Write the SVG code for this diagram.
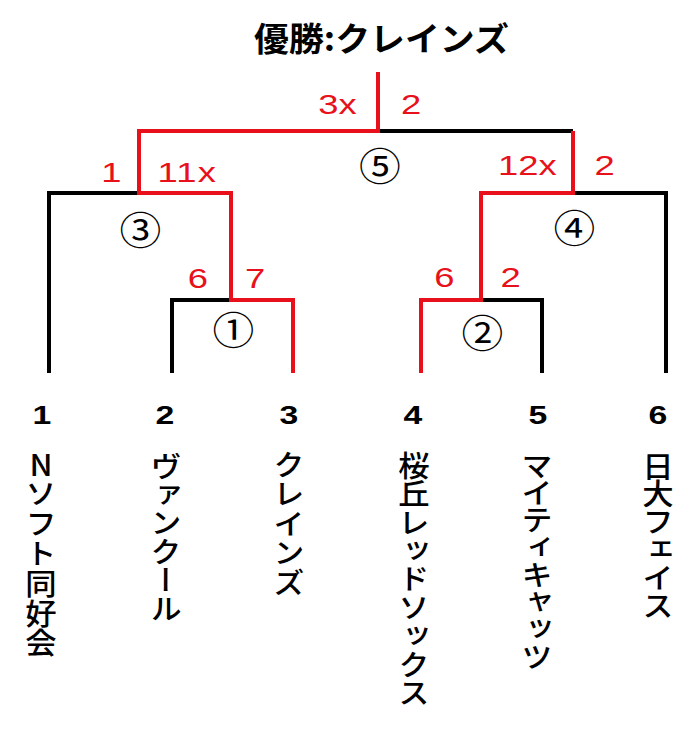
<svg xmlns="http://www.w3.org/2000/svg" width="694" height="729" viewBox="0 0 694 729">
<style>
.bk{fill:none;stroke:#000;stroke-width:4;stroke-linecap:butt;stroke-linejoin:miter}
.rd{fill:none;stroke:#e8101a;stroke-width:4;stroke-linecap:butt;stroke-linejoin:miter}
.score{font-family:"Liberation Sans",Arial,sans-serif;font-size:28px;fill:#e8101a;text-anchor:middle}
.num{font-family:"Liberation Sans",Arial,sans-serif;font-size:25px;font-weight:bold;fill:#000;text-anchor:middle}
.name{font-family:"Noto Sans CJK JP",sans-serif;font-size:29px;font-weight:500;fill:#000;writing-mode:vertical-rl;text-orientation:upright}
.circ{font-family:"Noto Sans CJK JP",sans-serif;font-size:38px;fill:#000;text-anchor:middle}
.title{font-family:"Noto Sans CJK JP",sans-serif;font-size:33px;font-weight:bold;fill:#000}
</style>
<rect width="694" height="729" fill="#fff"/>
<g id="title">
<text class="title" x="254" y="51" textLength="255" lengthAdjust="spacingAndGlyphs">優勝:クレインズ</text>
</g>
<g id="connectors">
<path class="bk" d="M49 373V193H139"/>
<path class="bk" d="M378 131H573"/>
<path class="bk" d="M573 193H666V373"/>
<path class="bk" d="M172 373V300H231"/>
<path class="bk" d="M481 300H542V373"/>
<path class="rd" d="M378 72V131H139V193H231V300H293V373"/>
<path class="rd" d="M573 131V193H481V300H421V373"/>
</g>
<g id="scores">
<text class="score" transform="translate(337.4,114) scale(1.3,1)">3x</text>
<text class="score" transform="translate(411,114) scale(1.3,1)">2</text>
<text class="score" transform="translate(111.4,182) scale(1.3,1)">1</text>
<text class="score" transform="translate(187.4,182) scale(1.3,1)" letter-spacing="1">11x</text>
<text class="score" transform="translate(527.4,175) scale(1.3,1)">12x</text>
<text class="score" transform="translate(604.7,175) scale(1.3,1)">2</text>
<text class="score" transform="translate(197.8,288) scale(1.3,1)">6</text>
<text class="score" transform="translate(255,288) scale(1.3,1)">7</text>
<text class="score" transform="translate(444.3,287) scale(1.3,1)">6</text>
<text class="score" transform="translate(510.5,287) scale(1.3,1)">2</text>
</g>
<g id="match1"><text class="circ" transform="translate(233.3,344.4) scale(1.1,1)">①</text></g>
<g id="match2"><text class="circ" transform="translate(482.5,346.9) scale(1.1,1)">②</text></g>
<g id="match3"><text class="circ" transform="translate(140.5,244) scale(1.1,1)">③</text></g>
<g id="match4"><text class="circ" transform="translate(574.3,241.8) scale(1.1,1)">④</text></g>
<g id="match5"><text class="circ" transform="translate(380,180.4) scale(1.1,1)">⑤</text></g>
<g id="team1">
<text class="num" transform="translate(42,424) scale(1.35,1)">1</text>
<text class="name" transform="translate(41,0) scale(1.08,1)" x="0" y="450" letter-spacing="0.8">Nソフト同好会</text>
</g>
<g id="team2">
<text class="num" transform="translate(165,424) scale(1.35,1)">2</text>
<text class="name" transform="translate(166,0) scale(1.08,1)" x="0" y="452" letter-spacing="-0.6">ヴァンクール</text>
</g>
<g id="team3">
<text class="num" transform="translate(289,424) scale(1.35,1)">3</text>
<text class="name" transform="translate(289,0) scale(1.08,1)" x="0" y="450" letter-spacing="0.5">クレインズ</text>
</g>
<g id="team4">
<text class="num" transform="translate(413,424) scale(1.35,1)">4</text>
<text class="name" transform="translate(414,0) scale(1.08,1)" x="0" y="451" letter-spacing="-0.5">桜丘レッドソックス</text>
</g>
<g id="team5">
<text class="num" transform="translate(538,424) scale(1.35,1)">5</text>
<text class="name" transform="translate(537,0) scale(1.08,1)" x="0" y="451" letter-spacing="-1.7">マイティキャッツ</text>
</g>
<g id="team6">
<text class="num" transform="translate(658,424) scale(1.35,1)">6</text>
<text class="name" transform="translate(658,0) scale(1.08,1)" x="0" y="452" letter-spacing="-1.2">日大フェイス</text>
</g>
</svg>
